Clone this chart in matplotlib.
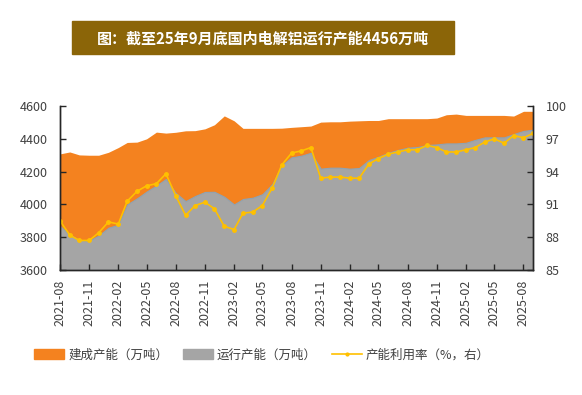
import pandas as pd
import numpy as np
import matplotlib
matplotlib.use("Agg")
import matplotlib.pyplot as plt
import matplotlib.dates as mdates
from matplotlib.patches import Patch, Rectangle
from matplotlib.lines import Line2D

plt.rcParams['font.family'] = ['Noto Sans CJK SC', 'DejaVu Sans']

months = pd.date_range('2021-08-01', periods=50, freq='MS')

# 建成产能（万吨）
built = [4308, 4320, 4302, 4300, 4300, 4318, 4347, 4378, 4380, 4400,
         4441, 4435, 4440, 4449, 4450, 4461, 4486, 4540, 4510, 4464,
         4464, 4464, 4464, 4465, 4470, 4474, 4478, 4502, 4504, 4504,
         4508, 4510, 4512, 4512, 4523, 4523, 4523, 4523, 4523, 4527,
         4547, 4551, 4543, 4543, 4543, 4543, 4543, 4539, 4568, 4568]

# 运行产能（万吨）
running = [3868, 3815, 3783, 3779, 3810, 3858, 3876, 4000, 4037, 4078,
           4115, 4155, 4070, 4020, 4051, 4076, 4077, 4047, 4000, 4033,
           4041, 4062, 4123, 4238, 4287, 4297, 4315, 4218, 4224, 4224,
           4218, 4222, 4271, 4291, 4315, 4332, 4346, 4350, 4362, 4366,
           4372, 4372, 4376, 4393, 4409, 4409, 4409, 4429, 4448, 4456]

# 产能利用率（%）
rate = [89.5, 88.2, 87.7, 87.7, 88.4, 89.4, 89.2, 91.3, 92.2, 92.7,
        92.9, 93.8, 91.8, 90.0, 90.9, 91.2, 90.6, 89.0, 88.7, 90.2,
        90.3, 90.9, 92.5, 94.6, 95.7, 95.9, 96.2, 93.4, 93.5, 93.5,
        93.4, 93.4, 94.7, 95.2, 95.6, 95.8, 96.0, 96.0, 96.4, 96.2,
        95.8, 95.8, 96.0, 96.2, 96.7, 97.0, 96.6, 97.3, 97.1, 97.5]

orange = '#F4821F'
gray = '#A5A5A5'
yellow = '#FFC000'
txt = '#404040'

fig = plt.figure(figsize=(5.82, 3.95), dpi=100)
ax = fig.add_axes([0.103, 0.3165, 0.8133, 0.415])

ax.fill_between(months, 3600, built, color=orange, linewidth=0)
ax.fill_between(months, 3600, running, color=gray, edgecolor='#8FA3B3', linewidth=0.8)
ax.set_ylim(3600, 4600)
ax.set_yticks(np.arange(3600, 4601, 200))
ax.set_xlim(months[0], months[-1])
ax.xaxis.set_major_locator(mdates.MonthLocator(bymonth=[2, 5, 8, 11]))
ax.xaxis.set_major_formatter(mdates.DateFormatter('%Y-%m'))

ax2 = ax.twinx()
ax2.plot(months, rate, color=yellow, linewidth=1.2, marker='o', markersize=2.5)
ax2.set_ylim(85, 100)
ax2.set_yticks(np.arange(85, 101, 3))

for a in (ax, ax2):
    a.spines['top'].set_visible(False)
    for s in ('left', 'right', 'bottom'):
        a.spines[s].set_color('#262626')
        a.spines[s].set_linewidth(1.0)
    a.tick_params(direction='in', length=4, width=1, colors='#262626',
                  labelcolor=txt, labelsize=9, pad=9)
ax.tick_params(axis='x', rotation=90, pad=7)
ax.set_zorder(1)
ax2.set_zorder(2)
ax2.patch.set_visible(False)

# title banner
fig.patches.append(Rectangle((72 / 582, 1 - 54 / 395), 382 / 582, 33 / 395,
                             transform=fig.transFigure, color='#8B6508', zorder=0))
fig.text(263 / 582, 1 - 38 / 395, '图：截至25年9月底国内电解铝运行产能4456万吨',
         color='white', fontsize=10.8, fontweight='bold', ha='center', va='center')

handles = [Patch(color=orange), Patch(color=gray),
           Line2D([], [], color=yellow, marker='o', markersize=2, linewidth=1.2)]
labels = ['建成产能（万吨）', '运行产能（万吨）', '产能利用率（%，右）']
fig.legend(handles, labels, loc='center', bbox_to_anchor=(262 / 582, 1 - 355 / 395),
           ncol=3, frameon=False, fontsize=9, labelcolor=txt, handlelength=2.4,
           handleheight=0.8, handletextpad=0.3, columnspacing=1.2)

plt.savefig('out.png', dpi=100)
